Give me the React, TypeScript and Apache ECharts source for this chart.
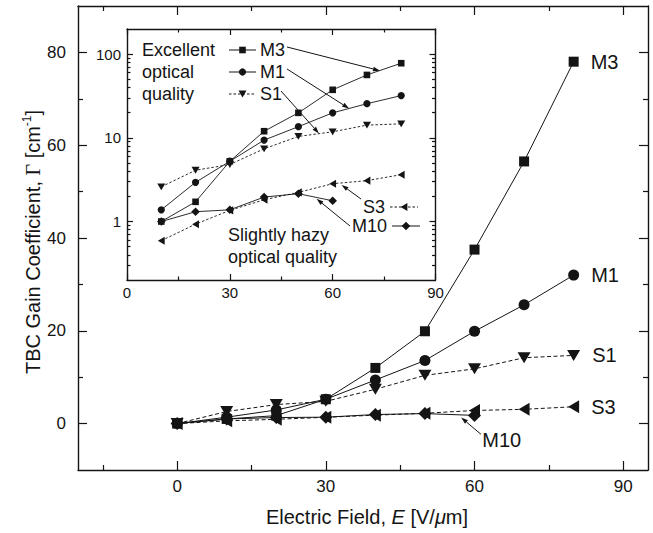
import React, { useEffect, useRef } from 'react';
import * as echarts from 'echarts';

// Applied electric field (V/µm)
const FIELD = [0, 10, 20, 30, 40, 50, 60, 70, 80];
const FIELD_M10 = [0, 10, 20, 30, 40, 50, 60];

// Two-beam-coupling gain coefficient Γ (cm⁻¹) for each sample
const GAIN_M3 = [0, 1.0, 1.72, 5.25, 12.0, 19.9, 37.5, 56.5, 78.0];
const GAIN_M1 = [0, 1.38, 2.94, 5.25, 9.4, 13.6, 19.9, 25.6, 32.0];
const GAIN_S1 = [0, 2.6, 4.1, 4.8, 7.4, 10.4, 11.8, 14.2, 14.7];
const GAIN_S3 = [0, 0.59, 0.93, 1.36, 1.82, 2.23, 2.83, 3.08, 3.63];
const GAIN_M10 = [0, 1.0, 1.31, 1.38, 1.96, 2.15, 1.77];

// Tick positions
const MAIN_X_MAJOR = [0, 30, 60, 90];
const MAIN_X_MINOR = [-15, 15, 45, 75];
const MAIN_Y_MAJOR = [0, 20, 40, 60, 80];
const MAIN_Y_MINOR = [10, 30, 50, 70];
const INSET_X_MAJOR = [0, 30, 60, 90];
const INSET_X_MINOR = [15, 45, 75];
const INSET_Y_MAJOR = [1, 10, 100];
const INSET_Y_MINOR = [0.3, 0.4, 0.5, 0.6, 0.7, 0.8, 0.9, 2, 3, 4, 5, 6, 7, 8, 9, 20, 30, 40, 50, 60, 70, 80, 90];

const FONT = '"Liberation Sans", Arial, Helvetica, sans-serif';
const SERIF = '"Liberation Serif", "Times New Roman", serif';
const INK = '#141414';

const MAIN = { left: 78, top: 6, right: 5, bottom: 63 };
const INSET = { left: 127, top: 29, width: 308.5, height: 251 };

const pairs = (xs: number[], ys: number[]) => xs.map((x, i) => [x, ys[i]]);
const positive = (xs: number[], ys: number[]) => pairs(xs, ys).filter((p) => p[1] > 0);

type AxisSpec = {
  grid: number;
  position: string;
  type?: 'value' | 'log';
  min: number;
  max: number;
  ticks: number[];
  tickLen: number;
  line: boolean;
  labels?: number[];
  fontSize?: number;
  margin?: number;
};

function axis(s: AxisSpec) {
  return {
    type: s.type ?? 'value',
    gridIndex: s.grid,
    position: s.position,
    min: s.min,
    max: s.max,
    axisLine: { show: s.line, onZero: false, lineStyle: { color: INK, width: 1.4 } },
    axisTick: {
      show: true,
      inside: true,
      length: s.tickLen,
      customValues: s.ticks,
      lineStyle: { color: INK, width: 1.2 },
    },
    axisLabel: s.labels
      ? {
          show: true,
          customValues: s.labels,
          margin: s.margin ?? 8,
          fontSize: s.fontSize ?? 17,
          fontFamily: FONT,
          color: INK,
        }
      : { show: false },
    splitLine: { show: false },
    minorTick: { show: false },
  };
}

function axesFor(
  dir: 'x' | 'y',
  grid: number,
  type: 'value' | 'log',
  min: number,
  max: number,
  major: number[],
  minor: number[],
  majorLen: number,
  minorLen: number,
  fontSize: number,
  margin: number,
  labels: number[]
) {
  const near = dir === 'x' ? 'bottom' : 'left';
  const far = dir === 'x' ? 'top' : 'right';
  return [
    axis({ grid, position: near, type, min, max, ticks: major, tickLen: majorLen, line: true, labels, fontSize, margin }),
    axis({ grid, position: near, type, min, max, ticks: minor, tickLen: minorLen, line: false }),
    axis({ grid, position: far, type, min, max, ticks: major, tickLen: majorLen, line: true }),
    axis({ grid, position: far, type, min, max, ticks: minor, tickLen: minorLen, line: false }),
  ];
}

type Style = { name: string; symbol: string; size: number | number[]; rotate: number; dashed: boolean };
const STYLES: Style[] = [
  { name: 'M3', symbol: 'rect', size: 10, rotate: 0, dashed: false },
  { name: 'M1', symbol: 'circle', size: 11, rotate: 0, dashed: false },
  { name: 'S1', symbol: 'triangle', size: [13, 11], rotate: 180, dashed: true },
  { name: 'S3', symbol: 'triangle', size: [13, 11], rotate: 90, dashed: true },
  { name: 'M10', symbol: 'diamond', size: 13, rotate: 0, dashed: false },
];
const DATA = [
  pairs(FIELD, GAIN_M3),
  pairs(FIELD, GAIN_M1),
  pairs(FIELD, GAIN_S1),
  pairs(FIELD, GAIN_S3),
  pairs(FIELD_M10, GAIN_M10),
];
const INSET_DATA = [
  positive(FIELD, GAIN_M3),
  positive(FIELD, GAIN_M1),
  positive(FIELD, GAIN_S1),
  positive(FIELD, GAIN_S3),
  positive(FIELD_M10, GAIN_M10),
];

function mainSeries(st: Style, data: number[][]) {
  const labelled = st.name !== 'M10';
  return {
    type: 'line',
    name: st.name,
    xAxisIndex: 0,
    yAxisIndex: 0,
    data: data.map((p, i) =>
      labelled && i === data.length - 1
        ? {
            value: p,
            label: {
              show: true,
              position: 'right',
              distance: 12,
              formatter: st.name,
              fontSize: 20,
              fontFamily: FONT,
              color: INK,
            },
          }
        : p
    ),
    symbol: st.symbol,
    symbolSize: st.size,
    symbolRotate: st.rotate,
    showAllSymbol: true,
    itemStyle: { color: INK },
    lineStyle: { color: INK, width: 1, type: st.dashed ? [4, 2.5] : 'solid' },
    z: 3,
  };
}

function insetSeries(st: Style, data: number[][]) {
  const s = Array.isArray(st.size) ? [st.size[0] * 0.62, st.size[1] * 0.62] : st.size * 0.66;
  return {
    type: 'line',
    name: st.name + ' (log)',
    xAxisIndex: 4,
    yAxisIndex: 4,
    data,
    symbol: st.symbol,
    symbolSize: s,
    symbolRotate: st.rotate,
    showAllSymbol: true,
    itemStyle: { color: INK },
    lineStyle: { color: INK, width: 0.9, type: st.dashed ? [2.5, 2] : 'solid' },
    z: 3,
  };
}

const option = {
  animation: false,
  backgroundColor: '#ffffff',
  textStyle: { fontFamily: FONT },
  grid: [
    { left: MAIN.left, top: MAIN.top, right: MAIN.right, bottom: MAIN.bottom, containLabel: false },
    {
      left: INSET.left,
      top: INSET.top,
      width: INSET.width,
      height: INSET.height,
      show: true,
      backgroundColor: '#ffffff',
      borderWidth: 0,
      containLabel: false,
    },
  ],
  xAxis: [
    ...axesFor('x', 0, 'value', -20, 95, MAIN_X_MAJOR, MAIN_X_MINOR, 9, 5, 17, 8, MAIN_X_MAJOR),
    ...axesFor('x', 1, 'value', 0, 90, INSET_X_MAJOR, INSET_X_MINOR, 6, 3.5, 15, 5, INSET_X_MAJOR),
  ],
  yAxis: [
    ...axesFor('y', 0, 'value', -10, 90, MAIN_Y_MAJOR, MAIN_Y_MINOR, 9, 5, 17, 12, MAIN_Y_MAJOR),
    ...axesFor('y', 1, 'log', 0.2, 200, INSET_Y_MAJOR, INSET_Y_MINOR, 6, 3.5, 15, 6, INSET_Y_MAJOR),
  ],
  series: [
    ...STYLES.map((st, i) => mainSeries(st, DATA[i])),
    ...STYLES.map((st, i) => insetSeries(st, INSET_DATA[i])),
  ],
};

type Pt = [number, number];

function arrow(from: Pt, to: Pt, head = 7, half = 2.3) {
  const dx = to[0] - from[0];
  const dy = to[1] - from[1];
  const len = Math.hypot(dx, dy) || 1;
  const ux = dx / len;
  const uy = dy / len;
  const bx = to[0] - ux * head;
  const by = to[1] - uy * head;
  return [
    {
      type: 'line',
      shape: { x1: from[0], y1: from[1], x2: bx, y2: by },
      style: { stroke: INK, lineWidth: 1 },
      z: 10,
    },
    {
      type: 'polygon',
      shape: { points: [to, [bx - uy * half, by + ux * half], [bx + uy * half, by - ux * half]] },
      style: { fill: INK },
      z: 10,
    },
  ];
}

function text(x: number, y: number, str: string, size: number, align = 'left') {
  return {
    type: 'text',
    x,
    y,
    z: 10,
    style: { text: str, fontSize: size, fontFamily: FONT, fill: INK, align, verticalAlign: 'middle' },
  };
}

function marker(kind: string, cx: number, cy: number) {
  const st = { fill: INK };
  if (kind === 'rect') return { type: 'rect', shape: { x: cx - 3.3, y: cy - 3.3, width: 6.6, height: 6.6 }, style: st, z: 11 };
  if (kind === 'circle') return { type: 'circle', shape: { cx, cy, r: 3.6 }, style: st, z: 11 };
  if (kind === 'down')
    return { type: 'polygon', shape: { points: [[cx - 4, cy - 3.4], [cx + 4, cy - 3.4], [cx, cy + 3.4]] }, style: st, z: 11 };
  if (kind === 'left')
    return { type: 'polygon', shape: { points: [[cx + 3.4, cy - 4], [cx + 3.4, cy + 4], [cx - 3.4, cy]] }, style: st, z: 11 };
  return { type: 'polygon', shape: { points: [[cx, cy - 4.3], [cx + 4.3, cy], [cx, cy + 4.3], [cx - 4.3, cy]] }, style: st, z: 11 };
}

function sample(x1: number, x2: number, y: number, dashed: boolean, kind: string) {
  return [
    {
      type: 'line',
      shape: { x1, y1: y, x2, y2: y },
      style: { stroke: INK, lineWidth: 1, lineDash: dashed ? [2.5, 2] : null },
      z: 10,
    },
    marker(kind, (x1 + x2) / 2, y),
  ];
}

function annotations(chart: echarts.ECharts) {
  const inset = (x: number, y: number) => chart.convertToPixel({ seriesIndex: 5 }, [x, y]) as Pt;
  const main = (x: number, y: number) => chart.convertToPixel({ seriesIndex: 0 }, [x, y]) as Pt;
  const g: any[] = [];

  // Axis titles
  g.push({
    type: 'text',
    x: 33,
    y: 242,
    rotation: Math.PI / 2,
    style: {
      text: '{a|TBC Gain Coefficient, }{g|Γ}{a| [cm}{s|-1}{a|]}',
      align: 'center',
      verticalAlign: 'middle',
      fill: INK,
      rich: {
        a: { fontSize: 20, fontFamily: FONT, fill: INK, lineHeight: 24 },
        g: { fontSize: 20, fontFamily: SERIF, fill: INK, lineHeight: 24 },
        s: { fontSize: 12, fontFamily: FONT, fill: INK, lineHeight: 14, verticalAlign: 'top' },
      },
    },
  });
  g.push({
    type: 'text',
    x: 367,
    y: 517,
    style: {
      text: '{a|Electric Field, }{i|E}{a| [V/}{i|μ}{a|m]}',
      align: 'center',
      verticalAlign: 'middle',
      fill: INK,
      rich: {
        a: { fontSize: 20, fontFamily: FONT, fill: INK },
        i: { fontSize: 20, fontFamily: FONT, fill: INK, fontStyle: 'italic' },
      },
    },
  });

  // Main plot: M10 call-out
  const m10c = main(65.5, -3.6);
  g.push(text(m10c[0], m10c[1], 'M10', 20, 'center'));
  g.push(...arrow(main(61.3, -2.3), main(57.3, 1.3)));

  // Inset: optical quality notes
  g.push(text(142, 50, 'Excellent', 18));
  g.push(text(142, 72, 'optical', 18));
  g.push(text(142, 94, 'quality', 18));
  g.push(text(228, 235, 'Slightly hazy', 18));
  g.push(text(228, 257, 'optical quality', 18));

  // Inset: legend rows with arrows to their curves
  g.push(...sample(229, 256, 50, false, 'rect'), text(260, 50, 'M3', 18));
  g.push(...sample(229, 256, 72, false, 'circle'), text(260, 72, 'M1', 18));
  g.push(...sample(229, 256, 94, true, 'down'), text(260, 94, 'S1', 18));
  g.push(...arrow([287, 47], inset(73.8, 63.5)));
  g.push(...arrow([287, 69], inset(64.8, 22.4)));
  g.push(...arrow([281, 91], inset(56, 11.3)));

  g.push(text(363, 207, 'S3', 18), ...sample(390, 418, 207, true, 'left'));
  g.push(text(352, 226, 'M10', 18), ...sample(392, 420, 226, false, 'diamond'));
  g.push(...arrow([361, 199], inset(62.6, 2.74)));
  g.push(...arrow([350, 226], inset(55.3, 1.87)));

  return g;
}

export default function App() {
  const ref = useRef<HTMLDivElement>(null);
  useEffect(() => {
    if (!ref.current) return;
    const chart = echarts.init(ref.current, null, { renderer: 'svg' });
    chart.setOption(option as any);
    chart.setOption({ graphic: annotations(chart) } as any);
    return () => chart.dispose();
  }, []);
  return (
    <div
      ref={ref}
      style={{ position: 'fixed', left: 0, top: 0, width: 653, height: 533, background: '#ffffff' }}
    />
  );
}
